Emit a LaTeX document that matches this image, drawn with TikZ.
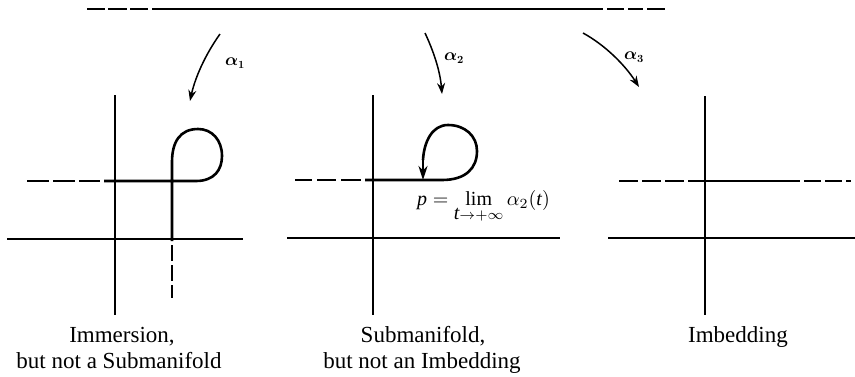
\documentclass[tikz,border=0pt]{standalone}
\usepackage{fontspec}
\setmainfont{Liberation Serif}
\usetikzlibrary{arrows.meta}
\begin{document}
\begin{tikzpicture}[x=1pt,y=-1pt,
  axis/.style={line width=1.1pt},
  curve/.style={line width=2.6pt},
  topline/.style={line width=2pt},
  maparrow/.style={line width=1.5pt,-{Stealth[length=11pt,width=8pt]}},
  maplabel/.style={font=\fontsize{16}{18}\selectfont\boldmath},
  caption/.style={font=\fontsize{23}{26}\selectfont,anchor=base},
]
\useasboundingbox (0,0) rectangle (855,376);
% top line
\draw[topline] (87,8.5) -- (105,8.5) (108,8.5) -- (127,8.5) (130,8.5) -- (148,8.5)
  (152,8.5) -- (603,8.5) (607,8.5) -- (624,8.5) (628,8.5) -- (643,8.5) (647,8.5) -- (665,8.5);
% map arrows
\coordinate (a1s) at (220,34); \coordinate (a1e) at (190,101);
\coordinate (a2s) at (425,33); \coordinate (a2e) at (442,94);
\coordinate (a3s) at (583,33); \coordinate (a3e) at (639,87);
\draw[maparrow] (a1s) .. controls (205,55) and (195,78) .. (a1e);
\draw[maparrow] (a2s) .. controls (433,50) and (440,70) .. (a2e);
\draw[maparrow] (a3s) .. controls (605,45) and (625,65) .. (a3e);
\node[maplabel] (l1) at (235,63) {$\alpha_1$};
\node[maplabel] (l2) at (454,58) {$\alpha_2$};
\node[maplabel] (l3) at (634,57) {$\alpha_3$};
% panel 1
\draw[axis] (115,95) -- (115,315);
\draw[axis] (7,239) -- (243,239);
\draw[curve] (27,181) -- (49,181) (53,181) -- (75,181) (79,181) -- (100,181);
\draw[curve] (104,181) -- (196,181) .. controls (214,181) and (222,170) .. (222,156)
  .. controls (222,140) and (212,129) .. (198,129)
  .. controls (180,129) and (172,142) .. (172,162) -- (172,241);
\draw[curve] (172,245) -- (172,261) (172,265) -- (172,281) (172,285) -- (172,298);
% panel 2
\draw[axis] (373,95) -- (373,315);
\draw[axis] (287,238) -- (560,238);
\draw[curve] (295,180) -- (312,180) (317,180) -- (336,180) (341,180) -- (361,180);
\draw[curve] (365,180) -- (442,180) .. controls (466,180) and (477,168) .. (477,151)
  .. controls (477,136) and (465,125) .. (448,125)
  .. controls (432,125) and (424,142) .. (423,160);
\draw[curve,-{Stealth[length=14pt,width=9pt]}] (423,156) -- (423,180);
\node[anchor=base west,inner sep=0pt] (lim) at (417,205)
  {\scalebox{2}{$\displaystyle \textit{p} = \mathop{\textrm{lim}}_{\textit{t}\to+\infty}\alpha_2(\textit{t})$}};
% panel 3
\draw[axis] (705,96) -- (705,315);
\draw[axis] (608,238) -- (855,238);
\draw[curve] (619,181) -- (638,181) (642,181) -- (661,181) (665,181) -- (684,181)
  (688,181) -- (800,181) (804,181) -- (821,181) (825,181) -- (842,181) (846,181) -- (851,181);
% captions
\node[caption] (c1a) at (122,342) {Immersion,};
\node[caption] (c1b) at (119,368) {but not a Submanifold};
\node[caption] (c2a) at (423,342) {Submanifold,};
\node[caption] (c2b) at (422,368) {but not an Imbedding};
\node[caption] (c3) at (738,342) {Imbedding};
\end{tikzpicture}
\end{document}
